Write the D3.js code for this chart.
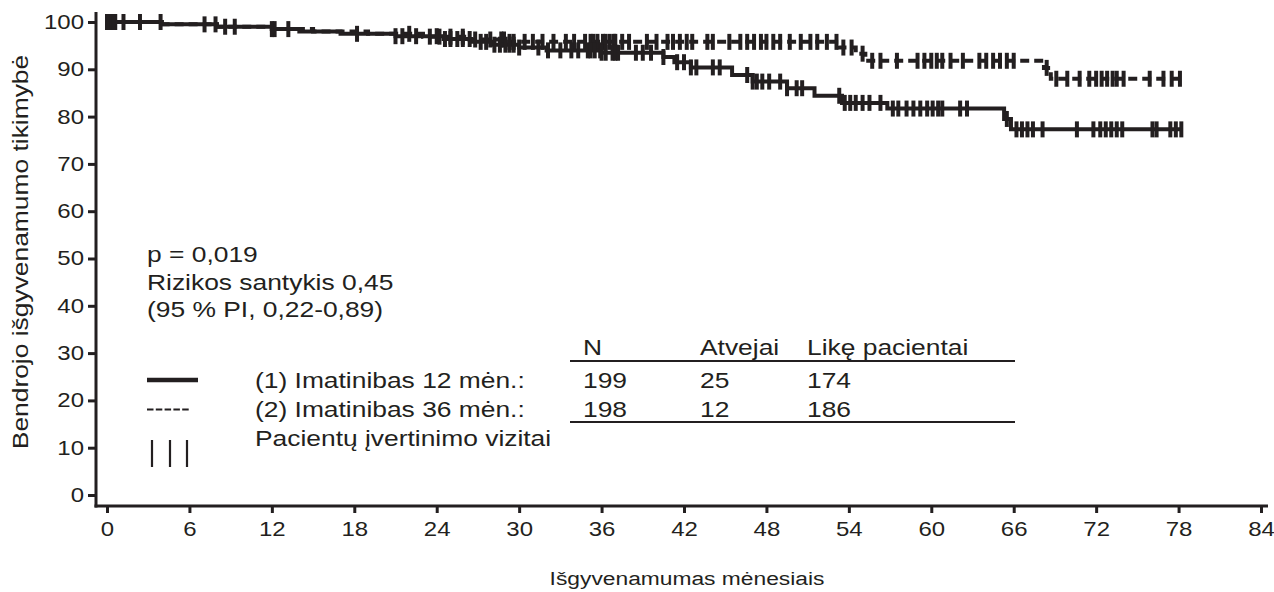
<!doctype html>
<html>
<head>
<meta charset="utf-8">
<style>
  body { margin: 0; background: #fff; }
  text { font-family: Arial, "Liberation Sans", sans-serif; fill: #231f20; }
</style>
<script src="https://d3js.org/d3.v7.min.js"></script>
</head>
<body>
<svg width="1274" height="592"></svg>
<script>
// (1) Imatinibas 12 men. - solid curve: event times (months) and survival after each step (%)
var arm1Times = [4, 8, 12, 14, 17, 21, 24.5, 26.5, 28, 30, 32, 36, 40.5, 41.3, 42.5, 45.5, 47, 49.5, 51.5, 53.5, 56.8, 65.3, 65.8];
var arm1Surv  = [99.5, 99.0, 98.5, 98.0, 97.5, 97.0, 96.4, 95.8, 95.2, 94.6, 94.0, 93.5, 92.6, 91.5, 90.4, 88.8, 87.4, 86.0, 84.4, 82.9, 81.7, 79.5, 77.3];
var arm1End = 78.3;
var arm1Censor = [0.1, 0.3, 0.5, 1.2, 3.9, 7.1, 8.6, 12.0, 13.2, 18.2, 21.0,
  21.5, 22.5, 24.0, 24.6, 25.0, 25.5, 25.9, 26.4, 27.2, 27.6, 28.2, 28.6, 29.0, 29.3, 29.6, 30.0,
  31.4, 32.1, 33.0, 33.8, 34.3, 35.0, 35.2, 35.5, 35.9, 36.0, 36.3, 36.8, 37.0, 37.2, 38.5, 39.0, 39.6, 40.5,
  41.5, 42.0, 42.5, 42.9, 44.1, 44.6, 46.6, 47.0, 47.3, 47.7, 48.2, 49.0, 49.5, 50.2, 50.6,
  53.3, 53.7, 54.1, 54.5, 55.0, 55.5, 56.3, 57.2, 57.6, 58.2, 58.7, 59.2, 59.7, 60.1, 60.5, 60.8,
  62.1, 62.6, 65.5, 66.2, 66.6, 67.0, 67.4, 68.1, 70.6, 71.8, 72.3, 72.7, 73.1, 73.5, 73.9,
  76.1, 76.4, 77.4, 77.8, 78.2];

// (2) Imatinibas 36 men. - dashed curve
var arm2Times = [4, 8, 12, 15, 19, 23, 26, 29, 53.3, 54.5, 55.2, 68.2, 68.7];
var arm2Surv  = [99.5, 99.0, 98.5, 98.0, 97.5, 96.9, 96.3, 95.8, 94.6, 93.3, 91.8, 90.3, 88.0];
var arm2End = 78.2;
var arm2Censor = [0.0, 0.2, 0.4, 0.6, 2.4, 7.9, 9.3, 12.2,
  22.0, 23.5, 24.2, 25.0, 25.9, 26.8, 27.9, 28.7, 28.9, 29.3, 29.6, 30.4, 31.0, 31.7, 32.5, 33.4, 34.0, 34.8,
  35.2, 35.4, 35.7, 36.1, 36.3, 36.6, 36.9, 37.0, 37.5, 38.0, 39.3, 40.0, 40.8,
  41.2, 41.7, 42.2, 42.6, 43.7, 44.1, 45.3, 46.1, 46.6, 47.1, 47.6, 48.0, 48.5, 49.0, 49.7, 50.5,
  51.2, 51.7, 52.4, 53.1, 53.6, 54.2, 55.0, 55.7, 56.3, 57.5, 59.0, 59.5, 60.0, 60.4, 60.8,
  61.4, 62.3, 63.5, 64.0, 64.5, 65.0, 65.5, 66.0, 68.4, 69.1, 69.9, 70.8, 71.5, 72.0, 72.4,
  72.8, 73.2, 73.5, 74.0, 75.9, 76.9, 77.5, 78.1];

var xTicks = d3.range(0, 85, 6);
var yTicks = d3.range(0, 101, 10);

var statLines = ["p = 0,019", "Rizikos santykis 0,45", "(95 % PI, 0,22-0,89)"];
var tableHead = ["N", "Atvejai", "Likę pacientai"];
var tableRows = [["199", "25", "174"], ["198", "12", "186"]];
var legendNames = ["(1) Imatinibas 12 mėn.:", "(2) Imatinibas 36 mėn.:", "Pacientų įvertinimo vizitai"];

var ink = "#231f20", sx = 1.2;
var svg = d3.select("svg");
var x = d3.scaleLinear().domain([0, 84]).range([107, 1261]);
var y = d3.scaleLinear().domain([0, 100]).range([495, 22]);

function label(px, py, s, size, anchor) {
  return svg.append("text")
    .attr("transform", "translate(" + px + "," + py + ") scale(" + sx + ",1)")
    .attr("font-size", size + "px")
    .attr("text-anchor", anchor || "start")
    .text(s);
}

// axes
var gy = svg.append("g").attr("transform", "translate(96,0)")
  .call(d3.axisLeft(y).tickValues(yTicks).tickSize(8).tickPadding(2));
var gx = svg.append("g").attr("transform", "translate(0,506)")
  .call(d3.axisBottom(x).tickValues(xTicks).tickSize(7).tickPadding(9));
[gx, gy].forEach(function(g) {
  g.select(".domain").remove();
  g.selectAll(".tick line").attr("stroke", ink).attr("stroke-width", 3);
  g.selectAll(".tick text").attr("font-size", "20px").attr("fill", ink)
    .attr("font-family", "Arial, 'Liberation Sans', sans-serif")
    .attr("transform", "scale(" + sx + ",1)");
});
svg.append("line").attr("x1", 96).attr("x2", 96).attr("y1", 12).attr("y2", 507.5)
  .attr("stroke", ink).attr("stroke-width", 3);
svg.append("line").attr("x1", 94.5).attr("x2", 1268).attr("y1", 506).attr("y2", 506)
  .attr("stroke", ink).attr("stroke-width", 3);

// axis titles
label(687, 585, "Išgyvenamumas mėnesiais", 19, "middle");
svg.append("text")
  .attr("transform", "translate(28,252) rotate(-90) scale(" + sx + ",1)")
  .attr("font-size", "22px").attr("text-anchor", "middle")
  .text("Bendrojo išgyvenamumo tikimybė");

// KM curves
function stepPoints(times, surv, end) {
  var pts = [[0, 100]];
  times.forEach(function(t, i) { pts.push([t, surv[i]]); });
  pts.push([end, surv[surv.length - 1]]);
  return pts;
}
function survAt(times, surv, t) {
  var v = 100;
  times.forEach(function(tt, i) { if (tt <= t) v = surv[i]; });
  return v;
}
var line = d3.line().x(function(d) { return x(d[0]); }).y(function(d) { return y(d[1]); })
  .curve(d3.curveStepAfter);

function drawArm(times, surv, end, censor, dash) {
  svg.append("path").datum(stepPoints(times, surv, end))
    .attr("d", line).attr("fill", "none").attr("stroke", ink)
    .attr("stroke-width", 4).attr("stroke-dasharray", dash);
  svg.append("g").selectAll("line").data(censor).enter().append("line")
    .attr("x1", function(d) { return x(d); }).attr("x2", function(d) { return x(d); })
    .attr("y1", function(d) { return y(survAt(times, surv, d)) - 8; })
    .attr("y2", function(d) { return y(survAt(times, surv, d)) + 8; })
    .attr("stroke", ink).attr("stroke-width", 4);
}
drawArm(arm2Times, arm2Surv, arm2End, arm2Censor, "9,5");
drawArm(arm1Times, arm1Surv, arm1End, arm1Censor, null);

// stats text
statLines.forEach(function(s, i) { label(147, 262 + i * 27.5, s, 22); });

// table
var colX = [583, 700, 807];
var rowY = [388, 417];
tableHead.forEach(function(s, i) { label(colX[i], 355, s, 22); });
tableRows.forEach(function(r, j) {
  r.forEach(function(s, i) { label(colX[i], rowY[j], s, 22); });
});
[361, 422].forEach(function(ly) {
  svg.append("line").attr("x1", 570).attr("x2", 1015).attr("y1", ly).attr("y2", ly)
    .attr("stroke", ink).attr("stroke-width", 2);
});

// legend
svg.append("line").attr("x1", 147).attr("x2", 198).attr("y1", 380).attr("y2", 380)
  .attr("stroke", ink).attr("stroke-width", 4.5);
svg.append("line").attr("x1", 147).attr("x2", 189).attr("y1", 409.5).attr("y2", 409.5)
  .attr("stroke", ink).attr("stroke-width", 2).attr("stroke-dasharray", "6.5,2.3");
[152, 170, 187].forEach(function(px) {
  svg.append("line").attr("x1", px).attr("x2", px).attr("y1", 440).attr("y2", 467)
    .attr("stroke", ink).attr("stroke-width", 2.2);
});
var legendY = [388, 417, 446];
legendNames.forEach(function(s, i) { label(255, legendY[i], s, 22); });
</script>
</body>
</html>
